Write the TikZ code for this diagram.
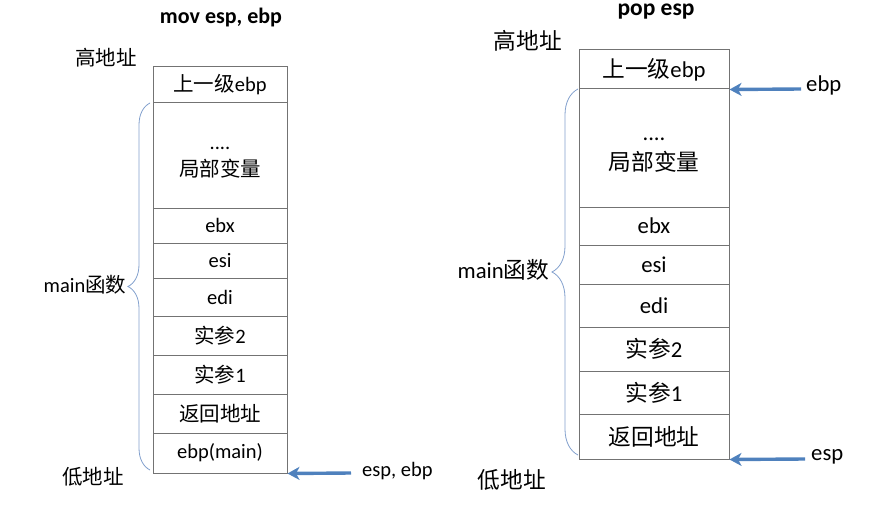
\documentclass[tikz,border=0pt]{standalone}
\usepackage{fontspec}
\setmainfont{Carlito}
\newfontfamily\cjk{Noto Sans CJK SC}
\usetikzlibrary{arrows.meta,decorations.pathreplacing}
\definecolor{linegray}{RGB}{115,115,115}
\definecolor{arrblue}{RGB}{79,129,189}
\definecolor{bracecol}{RGB}{130,160,205}
\tikzset{
  cell/.style={draw=linegray, line width=1pt, inner sep=0pt, align=center},
  cellL/.style={cell, minimum width=134pt, font=\fontsize{20.5}{23}\selectfont},
  cellR/.style={cell, minimum width=150pt, font=\fontsize{22.7}{25}\selectfont},
  lblL/.style={font=\fontsize{20.5}{23}\selectfont, inner sep=0pt},
  lblR/.style={font=\fontsize{22.7}{25}\selectfont, inner sep=0pt},
  ttlL/.style={font=\bfseries\fontsize{22}{26}\selectfont, inner sep=0pt},
  ttlR/.style={font=\bfseries\fontsize{23.5}{26}\selectfont, inner sep=0pt},
  arr/.style={draw=arrblue, line width=3.4pt, -{Stealth[length=12pt,width=13pt,inset=3.5pt]}},
  brcL/.style={draw=bracecol, line width=0.8pt, decorate, decoration={brace, amplitude=22pt}},
  brcR/.style={draw=bracecol, line width=0.8pt, decorate, decoration={brace, amplitude=26pt}}
}
\begin{document}
\begin{tikzpicture}[x=1pt,y=-1pt]
\useasboundingbox (0,0) rectangle (888,516);
% ---------- left ----------
\node[ttlL] (tL) at (221,18) {mov esp, ebp};
\node[lblL] (hiL) at (106,58) {\cjk 高地址};
\node[lblL] (loL) at (93,477) {\cjk 低地址};
\node[cellL, minimum height=36pt] (l1) at (220,85) {{\cjk 上一级}ebp};
\node[cellL, minimum height=105pt] (l2) at (220,155.5) {};
\node[lblL, anchor=base] (l2a) at (220,149) {....};
\node[lblL] (l2b) at (220,169) {\cjk 局部变量};
\node[cellL, minimum height=35pt] (l3) at (220,225.5) {ebx};
\node[cellL, minimum height=35pt] (l4) at (220,260.5) {esi};
\node[cellL, minimum height=38pt] (l5) at (220,297) {edi};
\node[cellL, minimum height=39pt] (l6) at (220,335.5) {{\cjk 实参}2};
\node[cellL, minimum height=39pt] (l7) at (220,374.5) {{\cjk 实参}1};
\node[cellL, minimum height=39pt] (l8) at (220,413.5) {\cjk 返回地址};
\node[cellL, minimum height=40pt] (l9) at (220,453) {ebp(main)};
\node[lblL] (mL) at (85,285) {main{\cjk 函数}};
\coordinate (bLb) at (150,470);
\coordinate (bLt) at (150,103);
\draw[brcL] (bLb) -- (bLt);
\node[lblL, anchor=west] (eL) at (362,471) {esp, ebp};
\coordinate (aL) at (351,473);
\draw[arr] (aL) -- (l9.south east);
% ---------- right ----------
\node[ttlR] (tR) at (656,12) {pop esp};
\node[lblR] (hiR) at (528,41) {\cjk 高地址};
\node[lblR] (loR) at (512,480) {\cjk 低地址};
\node[cellR, minimum height=39pt] (r1) at (654,69.5) {{\cjk 上一级}ebp};
\node[cellR, minimum height=118pt] (r2) at (654,148) {};
\node[lblR, anchor=base] (r2a) at (654,140) {....};
\node[lblR] (r2b) at (654,162) {\cjk 局部变量};
\node[cellR, minimum height=38pt] (r3) at (654,226) {ebx};
\node[cellR, minimum height=39pt] (r4) at (654,264.5) {esi};
\node[cellR, minimum height=43pt] (r5) at (654,305.5) {edi};
\node[cellR, minimum height=44pt] (r6) at (654,349) {{\cjk 实参}2};
\node[cellR, minimum height=43pt] (r7) at (654,392.5) {{\cjk 实参}1};
\node[cellR, minimum height=45pt] (r8) at (654,436.5) {\cjk 返回地址};
\node[lblR] (mR) at (503.5,270) {main{\cjk 函数}};
\coordinate (bRb) at (578,455);
\coordinate (bRt) at (578,89);
\draw[brcR] (bRb) -- (bRt);
\node[lblR, anchor=west] (eR1) at (806,85) {ebp};
\coordinate (aR1) at (801,89);
\draw[arr] (aR1) -- (r1.south east);
\node[lblR, anchor=west] (eR2) at (811,457) {esp};
\coordinate (aR2) at (805,459);
\draw[arr] (aR2) -- (r8.south east);
\end{tikzpicture}
\end{document}
